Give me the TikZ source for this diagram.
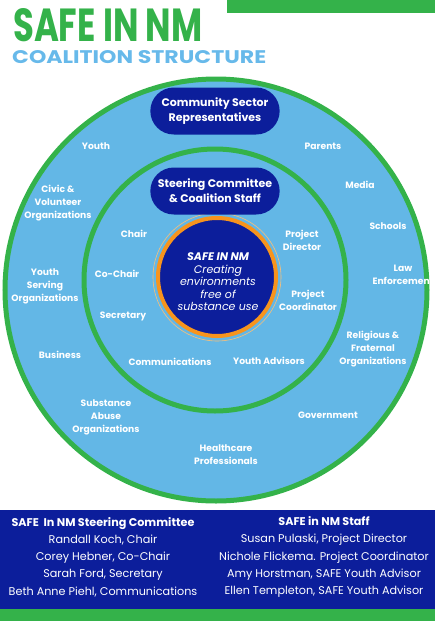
\documentclass[tikz,border=0pt]{standalone}
\usepackage{fontspec}
\setmainfont{Poppins}
\setsansfont{Poppins}
\usetikzlibrary{
  positioning,
  shapes.misc
}
\definecolor{safegreen}{RGB}{52,178,74}
\definecolor{ringblue}{RGB}{99,183,230}
\definecolor{titleblue}{RGB}{103,185,234}
\definecolor{navyblue}{RGB}{12,30,155}
\definecolor{coreorange}{RGB}{247,148,29}
\tikzset{
  ring/.style={
    draw=safegreen,
    line width=5pt,
    fill=ringblue
  },
  member/.style={
    text=white,
    align=center,
    inner sep=1pt,
    font=\bfseries\fontsize{9.2}{13}\selectfont
  },
  oval/.style={
    rounded rectangle,
    fill=navyblue,
    text=white,
    align=center,
    minimum width=136pt,
    minimum height=47pt,
    font=\bfseries\fontsize{11}{15}\selectfont
  },
  roster/.style={
    text=white,
    align=center,
    inner sep=0pt,
    font=\fontsize{11.2}{17.25}\selectfont
  }
}

\begin{document}
\begin{tikzpicture}[x=1pt, y=-1pt]
\useasboundingbox (0,0) rectangle (435,621);

% Title.
\fill[safegreen] (227,0) rectangle (435,13);
\node[anchor=north west, inner sep=0pt, text=safegreen] (title) at (13,8)
  {\resizebox{189pt}{33pt}{\bfseries SAFE IN NM}};
\node[anchor=north west, inner sep=0pt, text=titleblue] (subtitle) at (12,50)
  {\resizebox{254pt}{13pt}{\bfseries COALITION STRUCTURE}};

% Rings.
\draw[ring] (216,290) circle [radius=211pt];
\draw[ring] (215,280) circle [radius=131pt];
\draw[coreorange!60, line width=0.6pt] (217,277) circle [radius=64pt];
\draw[draw=coreorange, line width=4pt, fill=navyblue] (217,277) circle [radius=59pt];
\node[text=white, align=center, font=\itshape\fontsize{11}{12.5}\selectfont] (core) at (218,282)
  {\textbf{SAFE IN NM}\\Creating\\environments\\free of\\substance use};

% Ring headings.
\node[oval] (community) at (215,111) {Community Sector\\Representatives};
\node[oval] (steering) at (215,191) {Steering Committee\\\& Coalition Staff};

% Outer ring labels.
\node[member] (youth) at (96,146) {Youth};
\node[member] (civic) at (58,203) {Civic \&\\Volunteer\\Organizations};
\node[member] (youthserving) at (45,286) {Youth\\Serving\\Organizations};
\node[member] (business) at (60,355) {Business};
\node[member] (substance) at (106,417) {Substance\\Abuse\\Organizations};
\node[member] (health) at (226,455) {Healthcare\\Professionals};
\node[member] (government) at (328,415) {Government};
\node[member] (religious) at (373,349) {Religious \&\\Fraternal\\Organizations};
\node[member] (law) at (403,275) {Law\\Enforcement};
\node[member] (schools) at (388,226) {Schools};
\node[member] (media) at (360,185) {Media};
\node[member] (parents) at (323,146) {Parents};

% Inner ring labels.
\node[member] (chair) at (134,234) {Chair};
\node[member] (cochair) at (117,274) {Co-Chair};
\node[member] (secretary) at (123,316) {Secretary};
\node[member] (comms) at (170,362) {Communications};
\node[member] (advisors) at (269,361) {Youth Advisors};
\node[member] (coordinator) at (308,300) {Project\\Coordinator};
\node[member] (director) at (302,240) {Project\\Director};

% Roster panel.
\fill[navyblue] (0,510) rectangle (435,609);
\fill[safegreen] (0,609) rectangle (435,621);
\node[roster] (committee) at (103,557)
  {\textbf{SAFE\ \ In NM Steering Committee}\\
   Randall Koch, Chair\\
   Corey Hebner, Co-Chair\\
   Sarah Ford, Secretary\\
   Beth Anne Piehl, Communications};
\node[roster] (staff) at (324,557)
  {\textbf{SAFE in NM Staff}\\
   Susan Pulaski, Project Director\\
   Nichole Flickema. Project Coordinator\\
   Amy Horstman, SAFE Youth Advisor\\
   Ellen Templeton, SAFE Youth Advisor};

\end{tikzpicture}
\end{document}
